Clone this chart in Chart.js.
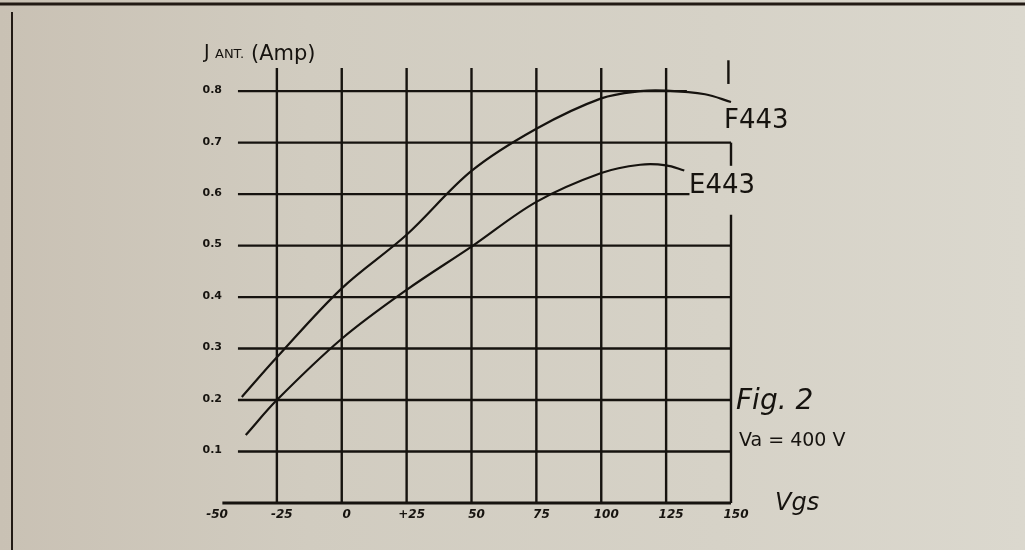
<!DOCTYPE html>
<html>
<head>
<meta charset="utf-8">
<script src="https://cdn.jsdelivr.net/npm/chart.js@4.4.1/dist/chart.umd.min.js"></script>
<style>
  html, body { margin: 0; padding: 0; }
  body {
    width: 1025px; height: 550px; overflow: hidden;
    background: linear-gradient(90deg, #c9c1b4 0%, #d1ccc0 30%, #d6d2c7 70%, #dbd8ce 100%);
  }
  #wrap { position: relative; width: 1025px; height: 550px; }
</style>
</head>
<body>
<div id="wrap"><canvas id="chartFig2"></canvas></div>
<script>
"use strict";

// ---- data ----
const vgsF443 = [-38.5, -25, 0, 25, 50, 75, 100, 115, 125, 140, 150];
const antF443 = [0.206, 0.283, 0.417, 0.521, 0.645, 0.727, 0.786, 0.800, 0.801, 0.794, 0.779];

const vgsE443 = [-37, -25, 0, 25, 50, 75, 100, 115, 125, 132];
const antE443 = [0.132, 0.200, 0.319, 0.414, 0.498, 0.585, 0.641, 0.657, 0.656, 0.646];

const xTicks = [-50, -25, 0, 25, 50, 75, 100, 125, 150];
const xTickLabels = ['-50', '-25', '0', '+25', '50', '75', '100', '125', '150'];
const yTicks = [0.1, 0.2, 0.3, 0.4, 0.5, 0.6, 0.7, 0.8];
const yTickLabels = ['0.1', '0.2', '0.3', '0.4', '0.5', '0.6', '0.7', '0.8'];

const ink = '#16130f';

function pts(xs, ys) {
    return xs.map((v, i) => ({x: v, y: ys[i]}));
}

function seg(ctx, x1, y1, x2, y2) {
    ctx.beginPath();
    ctx.moveTo(x1, y1);
    ctx.lineTo(x2, y2);
    ctx.stroke();
}

//--------------------------------hand drawn grid---------------------------------
const paperGrid = {
    id: 'paperGrid',
    beforeDatasetsDraw(chart) {
        const {ctx, scales: {x, y}} = chart;
        ctx.save();
        ctx.strokeStyle = ink;
        ctx.lineWidth = 2.4;

        // horizontal rulings, some stop short where the labels sit
        const hEnd = {0.6: 134, 0.8: 133};
        yTicks.forEach(v => {
            const py = y.getPixelForValue(v);
            seg(ctx, x.getPixelForValue(-40), py, x.getPixelForValue(hEnd[v] || 150), py);
        });

        // vertical rulings
        xTicks.slice(1, -1).forEach(v => {
            const px = x.getPixelForValue(v);
            seg(ctx, px, y.getPixelForValue(0), px, y.getPixelForValue(0.845));
        });

        // right edge, broken by the E443 label
        const pr = x.getPixelForValue(150);
        seg(ctx, pr, y.getPixelForValue(0), pr, y.getPixelForValue(0.56));
        seg(ctx, pr, y.getPixelForValue(0.655), pr, y.getPixelForValue(0.70));
        const pt = x.getPixelForValue(149);
        seg(ctx, pt, y.getPixelForValue(0.814), pt, y.getPixelForValue(0.86));

        // base line
        ctx.lineWidth = 3;
        const p0 = y.getPixelForValue(0);
        seg(ctx, x.getPixelForValue(-46), p0, pr, p0);
        ctx.restore();
    },
    afterDraw(chart) {
        const {ctx, scales: {x, y}} = chart;
        ctx.save();
        ctx.fillStyle = ink;

        // page frame
        ctx.strokeStyle = '#221a14';
        ctx.lineWidth = 3;
        seg(ctx, 0, 4, 1025, 4);
        ctx.lineWidth = 2;
        seg(ctx, 12, 12, 12, 550);

        // tick labels
        ctx.font = 'bold 11px "DejaVu Sans"';
        ctx.textAlign = 'right';
        ctx.textBaseline = 'middle';
        yTicks.forEach((v, i) => {
            ctx.fillText(yTickLabels[i], 222, y.getPixelForValue(v) - 1);
        });
        ctx.font = 'italic bold 12px "DejaVu Sans"';
        ctx.textAlign = 'center';
        xTicks.forEach((v, i) => {
            ctx.fillText(xTickLabels[i], x.getPixelForValue(v) + 5, y.getPixelForValue(0) + 12);
        });

        // axis titles
        ctx.textAlign = 'left';
        ctx.textBaseline = 'alphabetic';
        ctx.font = '19px "DejaVu Sans"';
        ctx.fillText('J', 204, 58);
        ctx.font = '13px "DejaVu Sans"';
        ctx.fillText('ANT.', 215, 58);
        ctx.font = '21px "DejaVu Sans"';
        ctx.fillText('(Amp)', 251, 60);

        ctx.font = 'italic 24px "DejaVu Sans"';
        ctx.fillText('Vgs', 775, 510);

        // curve names and caption
        ctx.font = '26px "DejaVu Sans"';
        ctx.fillText('F443', 724, 128);
        ctx.fillText('E443', 689, 193);
        ctx.font = 'italic 28px "DejaVu Sans"';
        ctx.fillText('Fig. 2', 736, 409);
        ctx.font = '19px "DejaVu Sans"';
        ctx.fillText('Va = 400 V', 739, 446);
        ctx.restore();
    }
};

const canvas = document.getElementById('chartFig2').getContext('2d');
var chartFig2 = new Chart(canvas, {
    type: 'line',
    data: {
        datasets: [{
            label: 'F443',
            data: pts(vgsF443, antF443),
            borderColor: ink,
            borderWidth: 2.2,
            pointRadius: 0,
            tension: 0.35,
            clip: false
        }, {
            label: 'E443',
            data: pts(vgsE443, antE443),
            borderColor: ink,
            borderWidth: 2.2,
            pointRadius: 0,
            tension: 0.35,
            clip: false
        }]
    },
    options: {
        responsive: true,
        maintainAspectRatio: false,
        animation: false,
        layout: { padding: { left: 212, right: 294, top: 68, bottom: 47 } },
        plugins: { legend: { display: false }, tooltip: { enabled: false } },
        scales: {
            x: { type: 'linear', min: -50, max: 150, display: false },
            y: { type: 'linear', min: 0, max: 0.845, display: false }
        }
    },
    plugins: [paperGrid]
});
</script>
</body>
</html>
